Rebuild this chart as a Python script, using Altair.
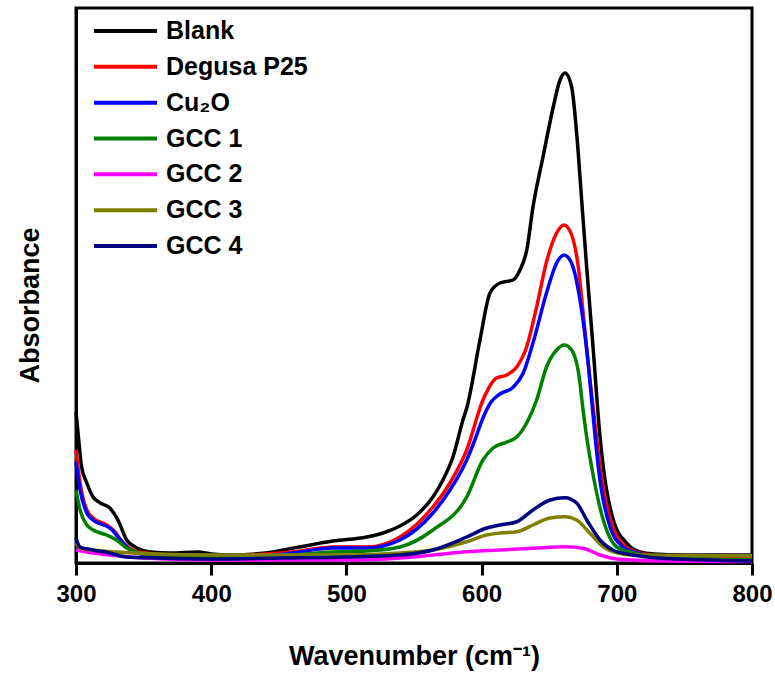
import altair as alt
import pandas as pd

names = ["Blank", "Degusa P25", "Cu₂O", "GCC 1", "GCC 2", "GCC 3", "GCC 4"]
colors = ["#000000", "#ff0000", "#0000ff", "#008000", "#ff00ff", "#808000", "#000080"]

blank_w = [300, 302, 304, 308, 312.6, 318, 325, 331, 337.5, 345, 355, 370, 390, 400, 415, 440, 465, 490,
           515, 527, 539.6, 552, 564, 571.4, 578.8, 586.2, 589.2, 598.8, 606.2, 613.6, 623.2, 628.4, 633.4,
           638, 645.4, 653, 658, 661.7, 666.6, 670.3, 674, 677.7, 682.6, 687.6, 690, 697.4, 707.3, 717.2,
           727, 750, 800]
blank_a = [0.604, 0.492, 0.388, 0.320, 0.264, 0.240, 0.220, 0.172, 0.092, 0.060, 0.044, 0.040, 0.044, 0.036,
           0.032, 0.040, 0.064, 0.088, 0.104, 0.120, 0.148, 0.192, 0.264, 0.332, 0.424, 0.572, 0.624, 0.892,
           1.080, 1.120, 1.132, 1.172, 1.252, 1.424, 1.624, 1.824, 1.932, 1.960, 1.904, 1.720, 1.452, 1.184,
           0.852, 0.504, 0.384, 0.172, 0.080, 0.044, 0.036, 0.032, 0.032]

p25_w = [300, 303, 308, 312.6, 322.7, 327.6, 335, 342, 352, 370, 410, 440, 460, 490, 515, 539.6, 564, 576.6,
         589, 601, 611, 618.6, 626, 633.3, 640.7, 648, 655.5, 661, 666.6, 671.5, 674, 677.8, 685, 687.6, 697,
         707, 717, 730, 800]
p25_a = [0.452, 0.320, 0.212, 0.180, 0.152, 0.132, 0.080, 0.052, 0.040, 0.032, 0.028, 0.036, 0.044, 0.064,
         0.064, 0.104, 0.224, 0.320, 0.452, 0.652, 0.740, 0.752, 0.784, 0.864, 1.024, 1.204, 1.320, 1.352,
         1.312, 1.184, 1.060, 0.852, 0.504, 0.384, 0.144, 0.064, 0.040, 0.028, 0.016]

cu2o_w = [300, 303, 308, 312.6, 325, 335, 342, 355, 380, 410, 440, 460, 490, 515, 539.6, 564, 576.6, 589,
          595, 601, 607, 613.6, 623.5, 630.8, 638, 648, 655.5, 661, 666.5, 672.8, 677.8, 684, 686.3, 695,
          704.6, 714.7, 730, 800]
cu2o_a = [0.404, 0.292, 0.200, 0.172, 0.140, 0.080, 0.044, 0.032, 0.028, 0.024, 0.028, 0.040, 0.060, 0.060,
          0.092, 0.200, 0.292, 0.412, 0.492, 0.580, 0.644, 0.676, 0.704, 0.760, 0.880, 1.080, 1.200, 1.232,
          1.200, 1.052, 0.852, 0.504, 0.384, 0.144, 0.064, 0.040, 0.024, 0.008]

gcc1_w = [300, 303, 308, 312.6, 322.7, 330, 337.5, 347, 360, 410, 460, 490, 515, 539.6, 564, 589, 601, 608.5,
          618.6, 626, 633.3, 640.7, 648, 655.5, 661.2, 666.6, 672.8, 674, 677.7, 681.4, 690, 700, 712, 730, 800]
gcc1_a = [0.292, 0.212, 0.152, 0.132, 0.112, 0.092, 0.060, 0.040, 0.032, 0.024, 0.032, 0.044, 0.048, 0.064,
          0.132, 0.264, 0.412, 0.460, 0.484, 0.504, 0.560, 0.652, 0.784, 0.852, 0.872, 0.852, 0.720, 0.660,
          0.504, 0.384, 0.172, 0.064, 0.040, 0.024, 0.012]

gcc2_w = [300, 312.6, 325, 350, 400, 450, 500, 539.6, 564, 589, 613.6, 638, 661.7, 675, 687.6, 700, 730, 800]
gcc2_a = [0.052, 0.040, 0.032, 0.020, 0.012, 0.012, 0.012, 0.020, 0.032, 0.045, 0.052, 0.059, 0.065, 0.059,
          0.032, 0.016, 0.008, 0.006]

gcc3_w = [300, 303, 312.6, 330, 360, 400, 450, 500, 539.6, 564, 589, 603.7, 613.6, 626, 638, 650.6, 661.7,
          670.3, 680, 690, 700, 712, 800]
gcc3_a = [0.080, 0.060, 0.052, 0.044, 0.036, 0.032, 0.032, 0.032, 0.040, 0.052, 0.085, 0.112, 0.120, 0.125,
          0.152, 0.180, 0.185, 0.172, 0.120, 0.065, 0.041, 0.032, 0.029]

gcc4_w = [300, 303, 312.6, 325, 337.5, 360, 400, 450, 500, 539.6, 564, 589, 603.7, 613.6, 626, 638, 650.6,
          661.7, 670.3, 677.8, 687.6, 697, 712, 730, 800]
gcc4_a = [0.100, 0.064, 0.052, 0.040, 0.024, 0.020, 0.016, 0.020, 0.024, 0.032, 0.052, 0.104, 0.140, 0.152,
          0.165, 0.212, 0.252, 0.261, 0.240, 0.172, 0.092, 0.052, 0.032, 0.020, 0.008]

x_ticks = [300, 400, 500, 600, 700, 800]

series_w = [blank_w, p25_w, cu2o_w, gcc1_w, gcc2_w, gcc3_w, gcc4_w]
series_a = [blank_a, p25_a, cu2o_a, gcc1_a, gcc2_a, gcc3_a, gcc4_a]

rows = []
for name, ws, As in zip(names, series_w, series_a):
    for w, a in zip(ws, As):
        rows.append({"series": name, "wavenumber": w, "absorbance": a})
df = pd.DataFrame(rows)

FONT = "Liberation Sans"

color_enc = alt.Color("series:N", scale=alt.Scale(domain=names, range=colors), legend=None)

x_enc = alt.X(
    "wavenumber:Q",
    scale=alt.Scale(domain=[300, 800], nice=False, zero=False),
    axis=alt.Axis(
        values=x_ticks, title="Wavenumber (cm⁻¹)", grid=False,
        labelFont=FONT, labelFontSize=24, labelFontWeight="bold", labelColor="black", labelPadding=7,
        labelFlush=False, labelOverlap=False,
        tickSize=12, tickWidth=3, tickColor="black",
        domainWidth=3, domainColor="black",
        titleFont=FONT, titleFontSize=27, titleFontWeight="bold", titleColor="black",
        titleBaseline="alphabetic", titleY=101,
    ),
)
y_enc = alt.Y(
    "absorbance:Q",
    scale=alt.Scale(domain=[0, 2.22], nice=False, zero=True),
    axis=alt.Axis(
        title="Absorbance", labels=False, ticks=False, grid=False,
        domainWidth=3, domainColor="black",
        titleFont=FONT, titleFontSize=27, titleFontWeight="bold", titleColor="black",
        titleAngle=270, titleBaseline="middle", titleAlign="center", titleX=-46, titleY=297,
    ),
)

line_layers = []
for name in names:
    line_layers.append(
        alt.Chart(df)
        .transform_filter(alt.datum.series == name)
        .mark_line(strokeWidth=3.5, interpolate="monotone")
        .encode(x=x_enc, y=y_enc, color=color_enc)
    )
lines = alt.layer(*line_layers)

leg_df = pd.DataFrame({"series": names})
leg_y = alt.Y("series:N", sort=names, axis=None,
              scale=alt.Scale(type="point", range=[5, 256], padding=0.5))
leg_rules = alt.Chart(leg_df).mark_rule(strokeWidth=4).encode(
    x=alt.value(18), x2=alt.value(81), y=leg_y, color=color_enc
)
leg_text = alt.Chart(leg_df).mark_text(
    align="left", baseline="middle", font=FONT, fontSize=25, fontWeight="bold", color="black"
).encode(x=alt.value(90), y=leg_y, text="series:N")
legend = alt.layer(leg_rules, leg_text)

chart = (
    alt.layer(lines, legend)
    .resolve_scale(y="independent")
    .properties(
        width=676, height=555,
        autosize=alt.AutoSizeParams(type="none"),
        padding={"left": 76, "top": 8, "right": 23, "bottom": 112},
        background="white",
    )
    .configure_view(stroke="black", strokeWidth=3)
)

chart.save("out.html", embed_options={"renderer": "svg", "actions": False})
